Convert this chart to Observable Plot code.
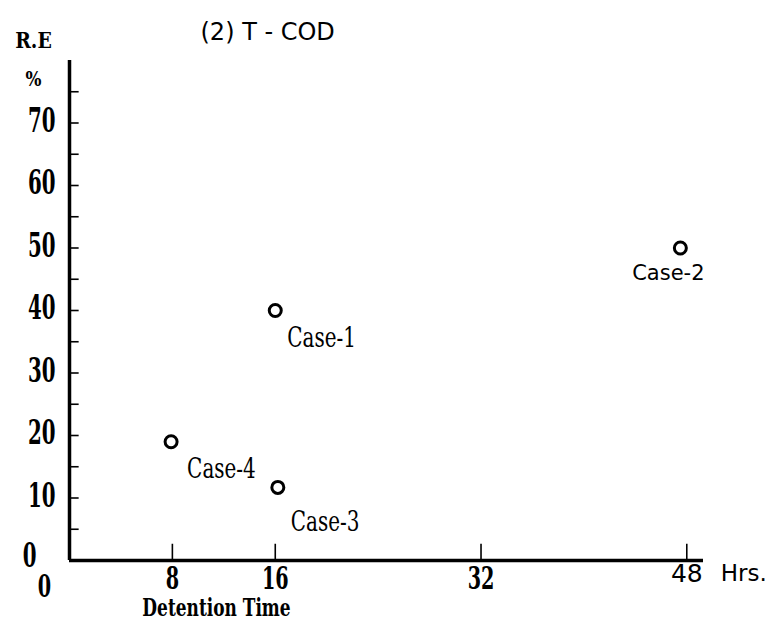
<!DOCTYPE html>
<html>
<head>
<meta charset="utf-8">
<script src="https://cdn.jsdelivr.net/npm/d3@7"></script>
<script src="https://cdn.jsdelivr.net/npm/@observablehq/plot@0.6"></script>
<style>
  html, body { margin: 0; padding: 0; background: #fff; }
</style>
</head>
<body>
<div id="chart"></div>
<script>
// Data
const cases = ["Case-1", "Case-2", "Case-3", "Case-4"];
const detentionHrs = [16, 47.5, 16.2, 7.9];
const removalPct = [40, 50, 11.7, 19];
const yTickLabels = [10, 20, 30, 40, 50, 60, 70];
const yTickMarks = [5, 10, 15, 20, 25, 30, 35, 40, 45, 50, 55, 60, 65, 70, 75];
const xTickLabels = [8, 16, 32];
const xTickMarks = [8, 16, 32, 48];
const titleText = "(2) T - COD";

const points = cases.map((c, i) => ({ label: c, x: detentionHrs[i], y: removalPct[i] }));
const serif = "DejaVu Serif";
const sans = "DejaVu Sans";
// horizontal condensing of the serif texts, keyed by font size
const condenseBySize = { "33": 0.6, "31": 0.62, "27": 0.74, "25": 0.68, "23": 0.82, "21": 0.8 };

const caseLabel = (name, opts) => Plot.text(points.filter(d => d.label === name), {
  x: "x", y: "y", text: "label", fill: "#000", ...opts
});

const chart = Plot.plot({
  width: 784,
  height: 632,
  marginLeft: 69,
  marginRight: 81,
  marginTop: 60,
  marginBottom: 72,
  x: { domain: [0, 49.3], axis: null },
  y: { domain: [0, 80], axis: null },
  style: { background: "#fff", color: "#000" },
  marks: [
    Plot.ruleX([0], { y1: 0, y2: 80, strokeWidth: 3.5, stroke: "#000" }),
    Plot.ruleY([0], { x1: 0, x2: 49.3, strokeWidth: 3.5, stroke: "#000" }),
    Plot.ruleY(yTickMarks, { x1: 0, x2: 0.75, strokeWidth: 1.6, stroke: "#000" }),
    Plot.ruleX(xTickMarks, { y1: 0, y2: 2.6, strokeWidth: 1.6, stroke: "#000" }),
    Plot.text(yTickLabels, {
      x: 0, y: d => d, text: d => String(d),
      textAnchor: "end", dx: -14, dy: -2,
      fontFamily: serif, fontWeight: "bold", fontSize: 33, fill: "#000"
    }),
    Plot.text([0], {
      x: 0, y: 0, text: d => String(d),
      textAnchor: "end", dx: -33, dy: -4,
      fontFamily: serif, fontWeight: "bold", fontSize: 33, fill: "#000"
    }),
    Plot.text([0], {
      x: 0, y: 0, text: d => String(d),
      dx: -25, dy: 27,
      fontFamily: serif, fontWeight: "bold", fontSize: 31, fill: "#000"
    }),
    Plot.text(xTickLabels, {
      x: d => d, y: 0, text: d => String(d),
      dy: 19,
      fontFamily: serif, fontWeight: "bold", fontSize: 31, fill: "#000"
    }),
    Plot.text([48], {
      x: d => d, y: 0, text: d => String(d), dy: 13,
      fontFamily: sans, fontSize: 25, fill: "#000"
    }),
    Plot.text(["Hrs."], {
      x: () => 48, y: 0, text: d => d, dx: 34, dy: 13, textAnchor: "start",
      fontFamily: sans, fontSize: 23, fill: "#000"
    }),
    Plot.text(["Detention Time"], {
      frameAnchor: "bottom-left", textAnchor: "middle", lineAnchor: "middle",
      text: d => d, dx: 147, dy: 47,
      fontFamily: serif, fontWeight: "bold", fontSize: 25, fill: "#000"
    }),
    Plot.text(["R.E"], {
      frameAnchor: "top-left", textAnchor: "middle", lineAnchor: "middle",
      text: d => d, dx: -36, dy: -20,
      fontFamily: serif, fontWeight: "bold", fontSize: 23, fill: "#000"
    }),
    Plot.text(["%"], {
      frameAnchor: "top-left", textAnchor: "middle", lineAnchor: "middle",
      text: d => d, dx: -36, dy: 19,
      fontFamily: serif, fontWeight: "bold", fontSize: 21, fill: "#000"
    }),
    Plot.text([titleText], {
      frameAnchor: "top-left", textAnchor: "start", lineAnchor: "middle",
      text: d => d, dx: 131, dy: -28,
      fontFamily: sans, fontSize: 24, fill: "#000"
    }),
    Plot.dot(points, {
      x: "x", y: "y", r: 6, stroke: "#000", strokeWidth: 3, fill: "#fff"
    }),
    caseLabel("Case-1", { textAnchor: "start", dx: 12, dy: 28, fontFamily: serif, fontSize: 27 }),
    caseLabel("Case-3", { textAnchor: "start", dx: 13, dy: 35, fontFamily: serif, fontSize: 27 }),
    caseLabel("Case-4", { textAnchor: "start", dx: 16, dy: 28, fontFamily: serif, fontSize: 27 }),
    caseLabel("Case-2", { textAnchor: "middle", dx: -12, dy: 25, fontFamily: sans, fontSize: 21 })
  ]
});

// Condense the serif texts horizontally around their anchor points
d3.select(chart).selectAll("g").each(function () {
  if (this.getAttribute("font-family") !== serif) return;
  const s = condenseBySize[this.getAttribute("font-size")] ?? 0.7;
  d3.select(this).selectAll("text").each(function () {
    const tr = this.getAttribute("transform") || "";
    this.setAttribute("transform", `${tr} scale(${s},1)`);
  });
});

document.getElementById("chart").appendChild(chart);
</script>
</body>
</html>
